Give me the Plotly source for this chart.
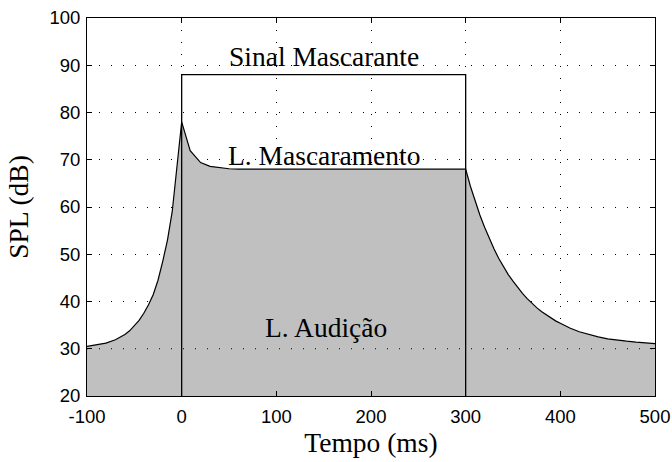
import plotly.graph_objects as go

# Masking threshold (dB SPL) versus time
tempo_ms = [-100, -90, -80, -70, -60, -55, -50, -45, -40, -35, -30, -25, -20, -15, -10, -5, 0,
            9, 20, 30, 40, 50, 60, 100, 150, 200, 250, 300,
            305, 310, 315, 320, 325, 330, 335, 340, 345, 350, 355, 360, 365, 370,
            375, 380, 385, 390, 395, 400, 410, 420, 430, 440, 450, 460, 470, 480, 490, 500]
limiar_mascaramento = [30.5, 30.8, 31.2, 31.9, 33.0, 33.8, 34.8, 36.0, 37.5, 39.3, 41.5, 44.5, 48.5, 53.0, 59.0, 68.5, 78.0,
                       71.9, 69.4, 68.6, 68.3, 68.1, 68.0, 68.0, 68.0, 68.0, 68.0, 68.0,
                       64.4, 61.2, 58.3, 55.7, 53.3, 51.1, 49.1, 47.3, 45.7, 44.3, 42.9, 41.7, 40.6, 39.6,
                       38.7, 37.9, 37.2, 36.5, 35.9, 35.4, 34.4, 33.6, 33.0, 32.5, 32.1, 31.8, 31.6, 31.4, 31.3, 31.1]

# Masker: 88 dB from 0 to 300 ms
sinal_t = [0, 0, 300, 300]
sinal_db = [20, 88, 88, 20]

# Threshold in quiet
audicao_t = [-100, 500]
audicao_db = [30, 30]

x_ticks = [-100, 0, 100, 200, 300, 400, 500]
y_ticks = [20, 30, 40, 50, 60, 70, 80, 90, 100]

serif = "Liberation Serif"
sans = "Liberation Sans"
dots = "1px,11px"

fig = go.Figure()
fig.add_trace(go.Scatter(
    x=tempo_ms, y=limiar_mascaramento, mode="lines",
    line=dict(color="black", width=1.2),
    fill="tozeroy", fillcolor="#c0c0c0",
))
fig.add_trace(go.Scatter(
    x=audicao_t, y=audicao_db, mode="lines",
    line=dict(color="black", width=1, dash=dots),
))
fig.add_trace(go.Scatter(
    x=sinal_t, y=sinal_db, mode="lines",
    line=dict(color="black", width=1.3),
))

label_font = dict(family=serif, size=27.5, color="black")
fig.add_annotation(x=150, y=91.9, text="Sinal Mascarante", showarrow=False, font=label_font)
fig.add_annotation(x=150, y=70.8, text="L. Mascaramento", showarrow=False, font=label_font)
fig.add_annotation(x=152, y=34.4, text="L. Audição", showarrow=False, font=label_font)

axis_common = dict(
    showline=True, linecolor="black", linewidth=1, mirror="ticks",
    ticks="inside", ticklen=5, tickcolor="black", tickwidth=1,
    showgrid=True, gridcolor="black", gridwidth=1, griddash=dots,
    zeroline=False, automargin=False,
    tickfont=dict(family=sans, size=18.5, color="black"),
)

fig.update_xaxes(range=[-100, 500], tickvals=x_ticks, ticktext=[str(v) for v in x_ticks],
                 ticklabelstandoff=4,
                 title=dict(text="Tempo (ms)", font=dict(family=serif, size=27.5, color="black"),
                            standoff=5),
                 **axis_common)
fig.update_yaxes(range=[20, 100], tickvals=y_ticks, ticktext=[str(v) for v in y_ticks],
                 ticklabelstandoff=2,
                 title=dict(text="SPL (dB)", font=dict(family=serif, size=27.5, color="black"),
                            standoff=12),
                 **axis_common)

fig.update_layout(
    width=672, height=462,
    margin=dict(l=87, r=17, t=18, b=66),
    paper_bgcolor="white", plot_bgcolor="white",
    showlegend=False,
)

fig.write_html("out.html")
